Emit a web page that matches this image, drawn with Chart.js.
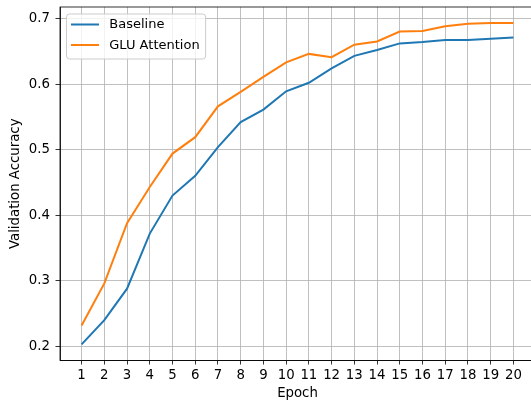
<!DOCTYPE html>
<html>
<head>
<meta charset="utf-8">
<script src="https://cdn.jsdelivr.net/npm/chart.js@4/dist/chart.umd.min.js"></script>
<style>
html,body{margin:0;padding:0;background:#fff;overflow:hidden;width:531px;height:402px;}
#wrap{position:absolute;left:0;top:0;width:536px;height:402px;}
canvas{display:block;}
</style>
</head>
<body>
<div id="wrap"><canvas id="c" width="536" height="402" style="width:536px;height:402px"></canvas></div>
<script>
const epochs = [1,2,3,4,5,6,7,8,9,10,11,12,13,14,15,16,17,18,19,20];
const baseline = [0.203,0.240,0.288,0.372,0.430,0.460,0.504,0.542,0.561,0.589,0.602,0.624,0.643,0.652,0.662,0.664,0.667,0.667,0.669,0.671];
const gluAttention = [0.232,0.296,0.388,0.443,0.494,0.519,0.566,0.588,0.611,0.633,0.646,0.641,0.660,0.665,0.680,0.681,0.688,0.692,0.693,0.693];
const yTicks = [0.2,0.3,0.4,0.5,0.6,0.7];
const seriesLabels = ['Baseline','GLU Attention'];
const seriesColors = ['#1f77b4','#ff7f0e'];
const xTitle = 'Epoch';
const yTitle = 'Validation Accuracy';

const FONT = 'DejaVu Sans';
const FS = 13.3;
const LFS = 13;
const LW = 2;

const frame = {
  id:'frame',
  afterDraw(chart){
    const a = chart.chartArea, ctx = chart.ctx;
    ctx.save();
    ctx.strokeStyle = '#000';
    ctx.lineWidth = 0.8;
    ctx.strokeRect(a.left, a.top, a.right - a.left, a.bottom - a.top);
    ctx.restore();
  }
};

const mplLegend = {
  id:'mplLegend',
  afterDraw(chart){
    const ctx = chart.ctx, a = chart.chartArea;
    const ds = chart.data.datasets;
    ctx.save();
    ctx.font = LFS + 'px "' + FONT + '"';
    const x0 = a.left + 6.5, y0 = a.top + 7;
    const rowH = 20.5;
    const textX = x0 + 42.8;
    const maxW = Math.max(...ds.map(d => ctx.measureText(d.label).width));
    const w = textX + maxW + 6 - x0;
    const h = 45;
    const r = 3;
    ctx.beginPath();
    ctx.moveTo(x0 + r, y0);
    ctx.lineTo(x0 + w - r, y0);
    ctx.quadraticCurveTo(x0 + w, y0, x0 + w, y0 + r);
    ctx.lineTo(x0 + w, y0 + h - r);
    ctx.quadraticCurveTo(x0 + w, y0 + h, x0 + w - r, y0 + h);
    ctx.lineTo(x0 + r, y0 + h);
    ctx.quadraticCurveTo(x0, y0 + h, x0, y0 + h - r);
    ctx.lineTo(x0, y0 + r);
    ctx.quadraticCurveTo(x0, y0, x0 + r, y0);
    ctx.closePath();
    ctx.fillStyle = 'rgba(255,255,255,0.8)';
    ctx.fill();
    ctx.strokeStyle = '#cccccc';
    ctx.lineWidth = 1;
    ctx.stroke();
    ds.forEach((d, i) => {
      const y = y0 + 10.5 + i * rowH;
      ctx.beginPath();
      ctx.moveTo(x0 + 4.5, y);
      ctx.lineTo(x0 + 32.5, y);
      ctx.strokeStyle = d.borderColor;
      ctx.lineWidth = LW;
      ctx.stroke();
      ctx.fillStyle = '#000';
      ctx.textBaseline = 'middle';
      ctx.textAlign = 'left';
      ctx.fillText(d.label, textX, y + 0.5);
    });
    ctx.restore();
  }
};

const toPts = vals => epochs.map((e, i) => ({x: e, y: vals[i]}));

new Chart(document.getElementById('c'), {
  type: 'line',
  data: {
    datasets: [
      {label: seriesLabels[0], data: toPts(baseline), borderColor: seriesColors[0], backgroundColor: seriesColors[0], borderWidth: LW, pointRadius: 0, tension: 0, fill: false},
      {label: seriesLabels[1], data: toPts(gluAttention), borderColor: seriesColors[1], backgroundColor: seriesColors[1], borderWidth: LW, pointRadius: 0, tension: 0, fill: false}
    ]
  },
  options: {
    responsive: false,
    animation: false,
    devicePixelRatio: 1,
    layout: {padding: {top: 7, right: 1, left: 0, bottom: 0}},
    plugins: {legend: {display: false}, tooltip: {enabled: false}},
    font: {family: FONT, size: FS},
    scales: {
      x: {
        type: 'linear',
        min: 0.05, max: 20.95,
        afterBuildTicks: s => { s.ticks = epochs.map(v => ({value: v})); },
        afterFit: s => { s.height = 41.5; s.paddingLeft = 0; s.paddingRight = 0; },
        ticks: {color: '#000', font: {family: FONT, size: FS}, padding: 3, maxRotation: 0, autoSkip: false, callback: v => String(v)},
        grid: {color: '#b0b0b0', lineWidth: 0.8, tickColor: '#000', tickLength: 4, drawTicks: true},
        border: {display: true, color: '#000', width: 0.8},
        title: {display: true, text: xTitle, color: '#000', font: {family: FONT, size: FS}, padding: {top: 0, bottom: 0.5}}
      },
      y: {
        type: 'linear',
        min: 0.1785, max: 0.7175,
        afterBuildTicks: s => { s.ticks = yTicks.map(v => ({value: v})); },
        afterFit: s => { s.width = 60; s.paddingTop = 0; s.paddingBottom = 0; },
        ticks: {color: '#000', font: {family: FONT, size: FS, lineHeight: 1}, padding: 5.5, autoSkip: false, callback: v => v.toFixed(1)},
        grid: {color: '#b0b0b0', lineWidth: 0.8, tickColor: '#000', tickLength: 4.5, drawTicks: true},
        border: {display: true, color: '#000', width: 0.8},
        title: {display: true, text: yTitle, color: '#000', font: {family: FONT, size: FS}, padding: {top: 7.5, bottom: 0}}
      }
    }
  },
  plugins: [frame, mplLegend]
});
</script>
</body>
</html>
